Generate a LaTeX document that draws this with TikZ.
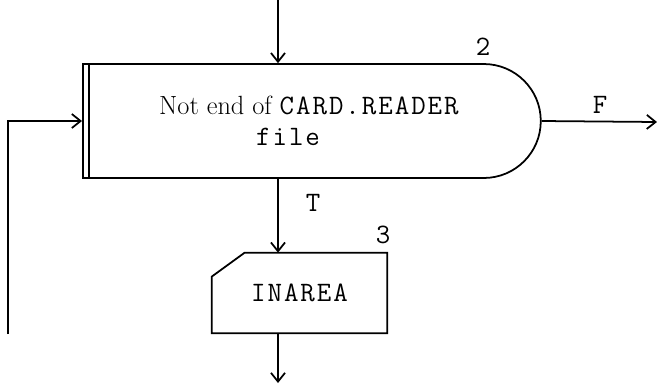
\documentclass[tikz,border=0pt]{standalone}
\usepackage{fontspec}
\setmonofont{Latin Modern Mono}[LetterSpace=7]
\usepackage{tikz}
\usetikzlibrary{shapes,arrows.meta,positioning,calc}

\newcommand{\typed}[1]{{\fontsize{16}{18}\selectfont\ttfamily #1}}

\tikzset{
  flowline/.style={line width=1pt,-{Straight Barb[length=5pt,width=8pt]}},
  condbox/.style={draw,line width=1pt,rounded rectangle,rounded rectangle left arc=none,
                  minimum width=9.16cm,minimum height=2.28cm,inner sep=0pt,align=left},
  readbox/.style={rectangle,minimum width=3.5cm,minimum height=1.6cm,inner sep=0pt},
  tag/.style={font=\fontsize{16}{18}\selectfont\ttfamily,inner sep=0pt}
}

\begin{document}
\begin{tikzpicture}[x=0.02cm,y=-0.02cm,font=\fontsize{15}{18}\selectfont]
  \useasboundingbox (0,0) rectangle (657,383);
  \coordinate (entry) at (278,0);
  \coordinate (inner) at (89,0);
  \coordinate (loopin) at (8,334);
  \coordinate (exit) at (278,383);
  \coordinate (false) at (657,122);
  \node[condbox,anchor=west] (cond) at (82,121)
    {Not end of \typed{CARD.READER}\\\hspace*{1.94cm}\typed{file}};
  \draw[line width=1pt] (inner |- cond.north) -- (inner |- cond.south);
  \node[readbox] (read) at (299.5,293) {\typed{INAREA}};
  \draw[line width=1pt] ([xshift=0.66cm]read.north west) -- (read.north east) -- (read.south east)
    -- (read.south west) -- ([yshift=-0.48cm]read.north west) -- cycle;
  \node[tag] (condno) at (483,47) {2};
  \node[tag] (readno) at (383,235) {3};
  \node[tag] (truelbl) at (313,203) {T};
  \node[tag] (falselbl) at (600,105) {F};
  \draw[flowline] (entry) -- (entry |- cond.north);
  \draw[flowline] (loopin) |- (cond.west);
  \draw[flowline] (cond.east) -- (false);
  \draw[flowline] (entry |- cond.south) -- (entry |- read.north);
  \draw[flowline] (entry |- read.south) -- (exit);
\end{tikzpicture}
\end{document}
